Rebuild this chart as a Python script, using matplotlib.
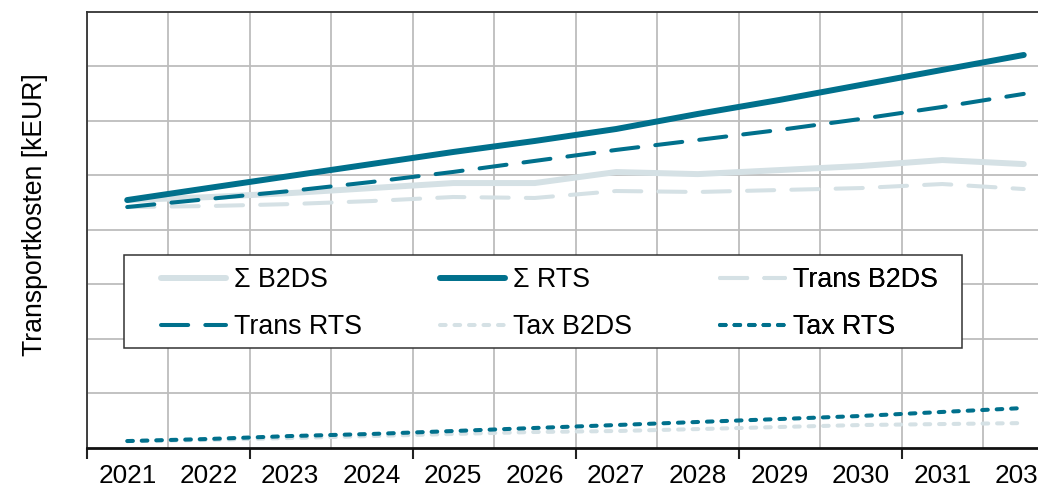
import matplotlib
matplotlib.use("Agg")
import matplotlib.pyplot as plt
from matplotlib.patches import Rectangle

plt.rcParams['font.family'] = ['Liberation Sans', 'DejaVu Sans']

years = [2021, 2022, 2023, 2024, 2025, 2026, 2027, 2028, 2029, 2030, 2031, 2032]
sum_b2ds = [227.2, 229.9, 233.6, 238.2, 242.8, 242.8, 252.9, 251.0, 254.7, 258.4, 263.9, 260.2]
sum_rts = [227.2, 238.3, 249.3, 260.3, 271.3, 281.4, 292.4, 306.2, 319.0, 332.8, 346.6, 360.3]
trans_b2ds = [220.8, 221.7, 223.5, 226.3, 230.0, 229.1, 235.5, 234.6, 236.4, 238.2, 241.9, 237.3]
trans_rts = [220.8, 228.2, 235.5, 243.8, 253.0, 263.1, 273.2, 282.3, 291.5, 301.6, 312.6, 324.6]
tax_b2ds = [6.1, 7.1, 8.9, 10.7, 12.6, 14.4, 15.3, 17.1, 19.0, 20.8, 21.7, 22.6]
tax_rts = [6.1, 8.0, 10.7, 12.6, 15.3, 18.1, 20.8, 23.6, 26.3, 29.1, 32.8, 36.4]

DARK = '#00708c'
LIGHT = '#d5e1e5'
FS_TICK = 18.8
FS_LEG = 19.3

fig = plt.figure(figsize=(10.38, 4.91), dpi=100)
ax = fig.add_axes([86.5 / 1038, (491 - 447.7) / 491, 978 / 1038, 436 / 491])

x = list(range(len(years)))

dash = (6.75, 4.25)
dot = (1.4, 2.2)
l1, = ax.plot(x, sum_b2ds, color=LIGHT, lw=4.3, solid_capstyle='round', solid_joinstyle='round', label='Σ B2DS', zorder=3)
l4, = ax.plot(x, trans_b2ds, color=LIGHT, lw=2.9, dashes=dash, dash_capstyle='round', label='Trans B2DS', zorder=3)
l5, = ax.plot(x, tax_b2ds, color=LIGHT, lw=2.9, dashes=dot, dash_capstyle='round', label='Tax B2DS', zorder=3)
l2, = ax.plot(x, sum_rts, color=DARK, lw=4.3, solid_capstyle='round', solid_joinstyle='round', label='Σ RTS', zorder=4)
l3, = ax.plot(x, trans_rts, color=DARK, lw=2.9, dashes=dash, dash_capstyle='round', label='Trans RTS', zorder=4)
l6, = ax.plot(x, tax_rts, color=DARK, lw=2.9, dashes=dot, dash_capstyle='round', label='Tax RTS', zorder=4)

ax.set_xlim(-0.5, len(years) - 0.5)
ax.set_ylim(0, 400)

# grid
for k in range(len(years) + 1):
    ax.axvline(k - 0.5, color='#bdbdbd', lw=1.3, zorder=1)
for v in range(50, 400, 50):
    ax.axhline(v, color='#bdbdbd', lw=1.3, zorder=1)

ax.set_yticks([])
ax.set_xticks([k - 0.5 for k in range(0, len(years) + 1, 2)])
ax.set_xticklabels([])
ax.tick_params(axis='x', which='major', length=8, width=1.5, direction='out', color='#222222')
ax.set_xticks(x, minor=True)
ax.set_xticklabels([str(y) for y in years], minor=True, fontsize=FS_TICK)
ax.tick_params(axis='x', which='minor', length=0, pad=12)

for s in ['top', 'left']:
    ax.spines[s].set_color('#333333')
    ax.spines[s].set_linewidth(1.3)
ax.spines['right'].set_visible(False)
ax.spines['bottom'].set_color('#111111')
ax.spines['bottom'].set_linewidth(2)

ax.set_ylabel('Transportkosten [kEUR]', fontsize=19.2)
ax.yaxis.set_label_coords(-0.0394, 0.5337)

# legend frame
ax.add_patch(Rectangle((0.0387, 0.2287), 0.8562, 0.2133, transform=ax.transAxes,
                       facecolor='white', edgecolor='#333333', lw=1.1, zorder=5))

columns = [[l1, l3], [l2, l5], [l4, l6]]
col_x = [0.0759, 0.3611, 0.6474]
for cx, hs in zip(col_x, columns):
    lg = ax.legend(handles=hs, loc='upper left', bbox_to_anchor=(cx, 0.4145),
                   fontsize=FS_LEG, frameon=False, handlelength=2.43,
                   handletextpad=0.3, labelspacing=0.78, borderpad=0,
                   borderaxespad=0)
    lg.set_zorder(6)
    ax.add_artist(lg)

fig.savefig('out.png', dpi=100)
